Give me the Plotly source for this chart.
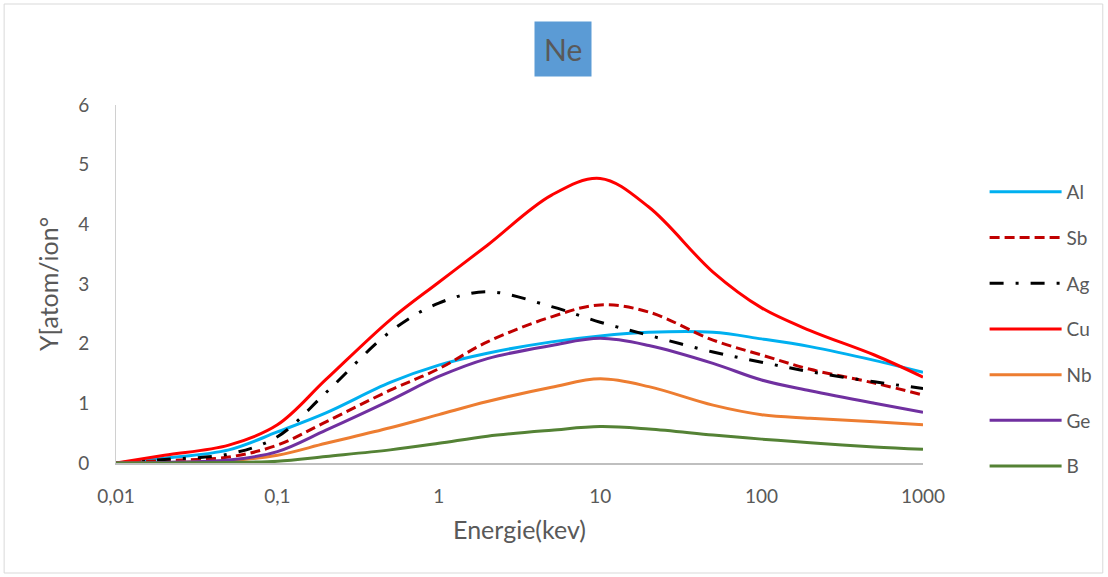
import plotly.graph_objects as go

energy = [0.01, 0.02, 0.05, 0.1, 0.2, 0.5, 1, 2, 5, 10, 20, 50, 100, 200, 500, 1000]

al = [0.0, 0.08, 0.22, 0.52, 0.84, 1.35, 1.64, 1.84, 2.03, 2.13, 2.19, 2.19, 2.08, 1.95, 1.72, 1.52]
sb = [0.0, 0.04, 0.10, 0.30, 0.69, 1.22, 1.58, 2.03, 2.45, 2.65, 2.53, 2.06, 1.81, 1.57, 1.34, 1.14]
ag = [0.0, 0.06, 0.15, 0.44, 1.18, 2.2, 2.68, 2.87, 2.62, 2.36, 2.14, 1.86, 1.69, 1.53, 1.36, 1.25]
cu = [0.0, 0.13, 0.30, 0.64, 1.4, 2.4, 3.03, 3.65, 4.49, 4.77, 4.29, 3.2, 2.6, 2.22, 1.81, 1.44]
nb = [0.0, 0.01, 0.04, 0.13, 0.33, 0.59, 0.81, 1.03, 1.27, 1.41, 1.28, 0.97, 0.81, 0.75, 0.69, 0.64]
ge = [0.0, 0.01, 0.05, 0.19, 0.55, 1.05, 1.45, 1.75, 1.97, 2.09, 1.97, 1.67, 1.39, 1.21, 1.0, 0.85]
b = [0.0, 0.0, 0.01, 0.03, 0.11, 0.22, 0.33, 0.45, 0.55, 0.61, 0.57, 0.47, 0.40, 0.34, 0.27, 0.23]

series_names = ["Al", "Sb", "Ag", "Cu", "Nb", "Ge", "B"]
series_values = [al, sb, ag, cu, nb, ge, b]
series_colors = ["#00B0F0", "#C00000", "#000000", "#FF0000", "#ED7D31", "#7030A0", "#548235"]
series_dash = ["solid", "10px,5px", "14px,12px,3px,12px", "solid", "solid", "solid", "solid"]

tick_vals = [0.01, 0.1, 1, 10, 100, 1000]
tick_text = ["0,01", "0,1", "1", "10", "100", "1000"]

FONT = "Lato"
GREY = "#595959"

fig = go.Figure()
for name, vals, col, dash in zip(series_names, series_values, series_colors, series_dash):
    fig.add_trace(go.Scatter(
        x=energy, y=vals, name=name, mode="lines",
        line=dict(color=col, width=3, dash=dash, shape="spline", smoothing=1.0),
        legendgroup=name,
    ))

fig.update_layout(
    width=1108, height=577,
    margin=dict(l=116, r=184, t=105, b=114),
    paper_bgcolor="white", plot_bgcolor="white",
    font=dict(family=FONT, color=GREY, size=19),
    showlegend=True,
    legend=dict(
        x=1.075, xanchor="left", y=0.81, yanchor="top",
        tracegroupgap=18, itemwidth=72,
        font=dict(size=19, color=GREY, family=FONT),
        bgcolor="rgba(0,0,0,0)",
    ),
    xaxis=dict(
        type="log", range=[-2, 3],
        tickvals=tick_vals, ticktext=tick_text,
        showgrid=False, zeroline=False,
        showline=True, linecolor="#BFBFBF", linewidth=2,
        ticks="", ticklabelstandoff=15,
        tickfont=dict(size=19, color=GREY),
        title=dict(text="Energie(kev)", font=dict(size=25, color=GREY), standoff=16),
    ),
    yaxis=dict(
        range=[0, 6], dtick=1,
        showgrid=False, zeroline=False,
        showline=True, linecolor="#D0D0D0", linewidth=1,
        ticks="", ticklabelstandoff=22,
        tickfont=dict(size=19, color=GREY),
        title=dict(text="Y[atom/ion°", font=dict(size=25, color=GREY), standoff=12),
    ),
)

fig.add_annotation(
    text="Ne", xref="paper", yref="paper", x=0.554, y=1.156,
    xanchor="center", yanchor="middle", showarrow=False,
    bgcolor="#5B9BD5", borderpad=9,
    font=dict(size=30, color=GREY, family=FONT),
)

fig.add_shape(
    type="rect", xref="paper", yref="paper",
    x0=(4 - 116) / 808, x1=(1104 - 116) / 808,
    y0=(463 - 573) / 358, y1=(463 - 4) / 358,
    line=dict(color="#D9D9D9", width=1), fillcolor="rgba(0,0,0,0)", layer="below",
)

fig.write_html("out.html")
